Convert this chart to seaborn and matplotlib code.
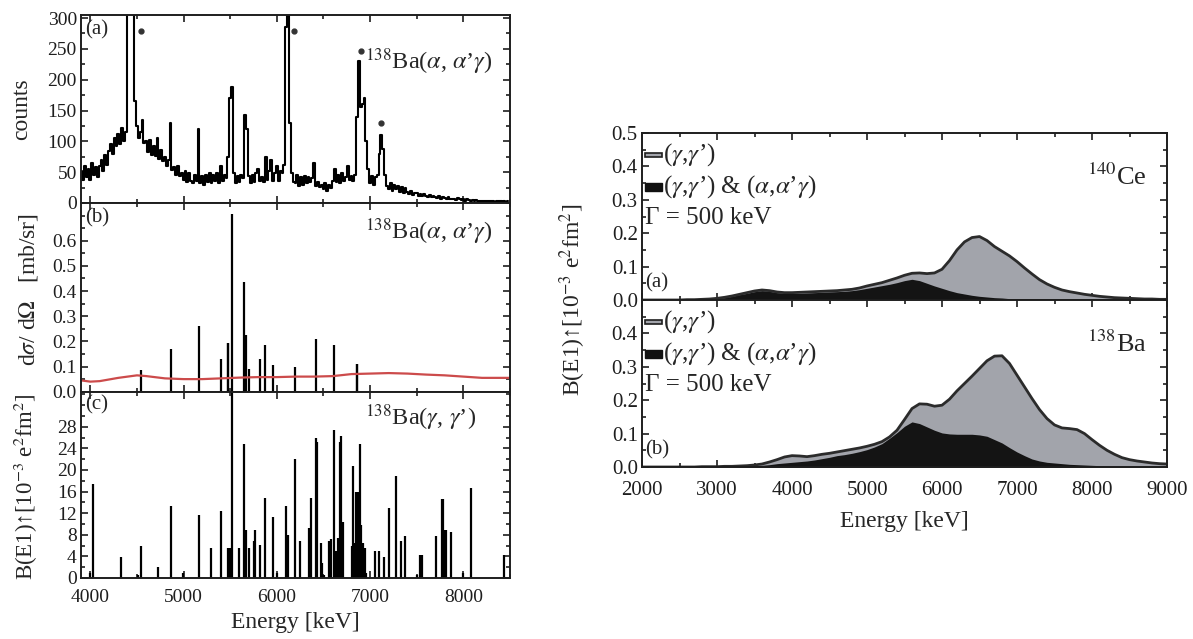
import numpy as np
import seaborn as sns
import matplotlib.pyplot as plt
from matplotlib.patches import Rectangle
from matplotlib.ticker import MultipleLocator, FormatStrFormatter

# ---------------- data ----------------
# (a) 138Ba(alpha,alpha'gamma) spectrum, 20 keV bins from 3900 keV
spec_e0, spec_bin = 3900, 20
spec_counts = [
    52, 38, 60, 42, 55,   38, 65, 45, 58, 42,   60, 70, 52, 78, 62,
    85, 95, 80, 105, 92,  112, 95, 122, 100, 115,  900, 1500, 1200, 700, 165,
    125, 105, 115, 135, 98,  100, 82, 102, 78, 92,  76, 105, 72, 86, 68,
    74, 60, 70, 130, 54,  58, 46, 60, 44, 48,  38, 52, 34, 48, 36,
    32, 45, 35, 120, 32,  44, 30, 46, 34, 48,  32, 45, 35, 48, 33,
    60, 35, 45, 40, 75,  170, 188, 48, 32, 44,  34, 46, 40, 143, 120,
    44, 32, 46, 34, 48,  55, 36, 42, 34, 75,  38, 52, 70, 36, 48,
    60, 36, 52, 48, 62,  285, 800, 130, 48, 34,  32, 45, 28, 42, 30,
    44, 32, 42, 34, 40,  65, 28, 34, 26, 30,  22, 32, 20, 30, 24,
    35, 55, 34, 45, 32,  48, 36, 42, 60, 38,  44, 36, 46, 140, 230,
    155, 160, 170, 100, 55,  32, 44, 30, 42, 45,  80, 110, 88, 45, 28,
    22, 32, 20, 30, 22,  28, 18, 26, 16, 24,  18, 14, 20, 13, 16,
    17, 12, 15, 11, 14,  12, 10, 13, 9, 11,  10, 8, 11, 7, 9,
    8, 6, 9, 7, 6,  7, 5, 8, 6, 5,  6, 4, 6, 5, 4,
    5, 4, 5, 3, 4,  4, 3, 4, 3, 4,  3, 4, 2, 3, 3,  3, 2, 3, 2, 3,
]
spec_e = [spec_e0 + spec_bin * i for i in range(len(spec_counts))]
mark_e = [4545, 6186, 6906, 7119]
mark_c = [279, 279, 247, 130]

# (b) differential cross sections and sensitivity limit
xs_e = [4545, 4864, 5162, 5402, 5472, 5480, 5523, 5647, 5661, 5665, 5700,
        5824, 5874, 5963, 6190, 6417, 6612, 6855, 6862]
xs_val = [0.085, 0.17, 0.26, 0.13, 0.195, 0.195, 0.705, 0.435, 0.225, 0.225, 0.09,
          0.13, 0.185, 0.105, 0.10, 0.21, 0.185, 0.11, 0.11]
limit_e = [3900, 4000, 4100, 4300, 4500, 4600, 4800, 5000, 5200, 5400, 5600, 5800,
           6000, 6200, 6400, 6600, 6800, 7000, 7200, 7400, 7600, 7800, 8000, 8200, 8500]
limit_val = [0.045, 0.040, 0.042, 0.055, 0.065, 0.062, 0.053, 0.050, 0.050, 0.053,
             0.056, 0.058, 0.058, 0.060, 0.060, 0.062, 0.070, 0.072, 0.074, 0.072,
             0.068, 0.065, 0.060, 0.055, 0.055]

# (c) B(E1) from (gamma,gamma')
be1_e = [3998, 4034, 4332, 4509, 4544, 4722, 4863, 4998, 5162, 5296, 5402, 5480,
         5488, 5495, 5523, 5594, 5647, 5665, 5700, 5753, 5771, 5821, 5874, 5963,
         5998, 6100, 6115, 6190, 6243, 6346, 6364, 6417, 6434, 6473, 6488, 6505,
         6562, 6580, 6612, 6637, 6651, 6672, 6690, 6707, 6803, 6817, 6832, 6850,
         6860, 6870, 6888, 6906, 6928, 6945, 6960, 7055, 7098, 7151, 7204, 7274,
         7328, 7374, 7505, 7540, 7552, 7711, 7768, 7780, 7800, 7812, 7871, 7995,
         8083, 8438]
be1_val = [1.0, 17.5, 3.8, 0.5, 6.0, 2.0, 13.4, 1.0, 11.6, 5.6, 12.5, 5.6,
           5.6, 5.6, 35.0, 5.6, 24.8, 8.8, 5.6, 6.8, 8.9, 6.1, 14.9, 11.3,
           1.0, 13.4, 8.0, 22.0, 6.8, 9.2, 14.9, 26.0, 25.2, 6.5, 2.8, 0.5,
           6.8, 7.2, 27.5, 5.0, 7.5, 25.2, 26.3, 10.4, 6.0, 20.8, 6.4, 16.0,
           16.0, 16.0, 24.8, 9.8, 6.5, 5.5, 1.0, 5.0, 5.0, 3.8, 13.0, 18.8,
           6.8, 7.7, 0.5, 4.3, 4.3, 7.7, 14.7, 14.7, 8.8, 8.8, 8.5, 0.9,
           16.6, 4.2]

# right: folded strength distributions (Gamma = 500 keV), 100 keV grid
strength_e = list(range(2000, 9001, 100))
ce_total = [0.0, 0.0, 0.0, 0.0, 0.0, 0.0, 0.001, 0.001, 0.002, 0.003,
            0.005, 0.008, 0.012, 0.017, 0.022, 0.027, 0.030, 0.028, 0.024, 0.022,
            0.022, 0.023, 0.024, 0.025, 0.026, 0.027, 0.028, 0.030, 0.032, 0.036,
            0.042, 0.047, 0.052, 0.059, 0.066, 0.074, 0.080, 0.081, 0.079, 0.081,
            0.092, 0.118, 0.150, 0.174, 0.187, 0.190, 0.178, 0.160, 0.146, 0.132,
            0.115, 0.096, 0.078, 0.061, 0.048, 0.038, 0.030, 0.025, 0.021, 0.017,
            0.014, 0.011, 0.009, 0.007, 0.006, 0.005, 0.004, 0.003, 0.003, 0.002,
            0.002]
ce_coinc = [0.0, 0.0, 0.0, 0.0, 0.0, 0.0, 0.0, 0.0, 0.001, 0.002,
            0.004, 0.007, 0.011, 0.016, 0.020, 0.025, 0.028, 0.026, 0.022, 0.020,
            0.020, 0.020, 0.021, 0.022, 0.023, 0.024, 0.025, 0.026, 0.028, 0.031,
            0.035, 0.039, 0.043, 0.047, 0.052, 0.058, 0.062, 0.058, 0.050, 0.042,
            0.035, 0.028, 0.022, 0.018, 0.014, 0.011, 0.009, 0.007, 0.006, 0.004,
            0.003, 0.002, 0.002, 0.001, 0.001, 0.0, 0.0, 0.0, 0.0, 0.0,
            0.0, 0.0, 0.0, 0.0, 0.0, 0.0, 0.0, 0.0, 0.0, 0.0,
            0.0]
ba_total = [0.0, 0.0, 0.0, 0.0, 0.0, 0.0, 0.0, 0.0, 0.001, 0.001,
            0.001, 0.002, 0.002, 0.003, 0.004, 0.006, 0.009, 0.015, 0.022, 0.030,
            0.034, 0.033, 0.031, 0.034, 0.038, 0.041, 0.045, 0.049, 0.053, 0.057,
            0.062, 0.068, 0.076, 0.090, 0.110, 0.142, 0.175, 0.189, 0.188, 0.182,
            0.185, 0.203, 0.228, 0.250, 0.272, 0.295, 0.318, 0.332, 0.333, 0.310,
            0.275, 0.240, 0.205, 0.172, 0.145, 0.126, 0.117, 0.115, 0.112, 0.100,
            0.082, 0.065, 0.050, 0.038, 0.028, 0.022, 0.018, 0.015, 0.012, 0.010,
            0.009]
ba_coinc = [0.0, 0.0, 0.0, 0.0, 0.0, 0.0, 0.0, 0.0, 0.0, 0.0,
            0.001, 0.001, 0.001, 0.002, 0.003, 0.004, 0.005, 0.007, 0.010, 0.012,
            0.014, 0.016, 0.018, 0.021, 0.025, 0.029, 0.034, 0.037, 0.041, 0.046,
            0.052, 0.060, 0.070, 0.086, 0.103, 0.122, 0.135, 0.130, 0.120, 0.110,
            0.102, 0.099, 0.098, 0.098, 0.098, 0.096, 0.092, 0.082, 0.072, 0.058,
            0.045, 0.034, 0.024, 0.018, 0.014, 0.012, 0.010, 0.008, 0.007, 0.006,
            0.005, 0.004, 0.003, 0.002, 0.002, 0.001, 0.001, 0.001, 0.001, 0.0,
            0.0]

# ---------------- figure ----------------
sns.set_theme(style="ticks")
plt.rcParams['font.family'] = ['Liberation Serif', 'DejaVu Serif']
plt.rcParams['mathtext.fontset'] = 'stix'

W, H = 1193, 639
fig = plt.figure(figsize=(W / 100, H / 100), dpi=100)
INK = '#1e1e1e'
GRAY = '#a2a4ab'


def box(x0, y0, x1, y1):
    return fig.add_axes([x0 / W, 1 - y1 / H, (x1 - x0) / W, (y1 - y0) / H])


def style(ax, fs):
    for s in ax.spines.values():
        s.set_linewidth(1.4)
        s.set_color(INK)
    ax.tick_params(which='both', direction='in', top=True, right=True,
                   width=1.2, labelsize=fs, colors=INK, pad=3)
    ax.tick_params(which='major', length=5)
    ax.tick_params(which='minor', length=3)


# ---- left column ----
ax_a = box(81, 15, 510, 203)
ax_b = box(81, 203, 510, 391.7)
ax_c = box(81, 391.7, 510, 578)

sns.lineplot(x=spec_e, y=spec_counts, ax=ax_a, color='black', lw=1.5,
             drawstyle='steps-mid')
ax_a.plot(mark_e, mark_c, 'o', color='#333333', ms=3.5)
ax_a.set_ylim(0, 305)
ax_a.yaxis.set_major_locator(MultipleLocator(50))
ax_a.yaxis.set_minor_locator(MultipleLocator(25))
ax_a.set_ylabel('counts', fontsize=17)
ax_a.yaxis.set_label_coords(-0.114, 0.5)
ax_a.text(0.01, 0.92, '(a)', transform=ax_a.transAxes, fontsize=15, va='center')
ax_a.text(0.662, 0.75, r"$^{138}$Ba($\alpha$, $\alpha$’$\gamma$)",
          transform=ax_a.transAxes, fontsize=17.5, va='center')

ax_b.vlines(xs_e, 0, xs_val, color='black', lw=1.6)
sns.lineplot(x=limit_e, y=limit_val, ax=ax_b, color='#cc4b4b', lw=1.6)
ax_b.set_ylim(0, 0.75)
ax_b.set_yticks([0.0, 0.1, 0.2, 0.3, 0.4, 0.5, 0.6])
ax_b.yaxis.set_minor_locator(MultipleLocator(0.05))
ax_b.yaxis.set_major_formatter(FormatStrFormatter('%.1f'))
ax_b.set_ylabel(r"d$\sigma$/ d$\Omega$   [mb/sr]", fontsize=17)
ax_b.yaxis.set_label_coords(-0.096, 0.54)
ax_b.text(0.01, 0.92, '(b)', transform=ax_b.transAxes, fontsize=15, va='center')
ax_b.text(0.662, 0.846, r"$^{138}$Ba($\alpha$, $\alpha$’$\gamma$)",
          transform=ax_b.transAxes, fontsize=17.5, va='center')

ax_c.vlines(be1_e, 0, be1_val, color='black', lw=1.6)
ax_c.set_ylim(0, 34.5)
ax_c.set_yticks(range(0, 29, 4))
ax_c.yaxis.set_minor_locator(MultipleLocator(2))
ax_c.set_ylabel(r"B(E1)↑[10$^{-3}$ e$^{2}$fm$^{2}$]", fontsize=16.5)
ax_c.yaxis.set_label_coords(-0.096, 0.49)
ax_c.set_xlabel('Energy [keV]', fontsize=17, labelpad=4)
ax_c.text(0.01, 0.93, '(c)', transform=ax_c.transAxes, fontsize=15, va='center')
ax_c.text(0.662, 0.86, r"$^{138}$Ba($\gamma$, $\gamma$’)",
          transform=ax_c.transAxes, fontsize=17.5, va='center')

for ax in (ax_a, ax_b, ax_c):
    ax.set_xlim(3900, 8500)
    ax.xaxis.set_major_locator(MultipleLocator(1000))
    ax.xaxis.set_minor_locator(MultipleLocator(500))
    style(ax, 14)
    ax.tick_params(axis='x', pad=8)
for ax in (ax_a, ax_b):
    ax.tick_params(labelbottom=False)


# ---- right column ----
ax_u = box(642, 133, 1167, 300)
ax_l = box(642, 300, 1167, 467)


def strength(ax, total, coinc, tag, nucleus):
    ax.fill_between(strength_e, total, color=GRAY, lw=0)
    ax.fill_between(strength_e, coinc, color='#141414', lw=0)
    sns.lineplot(x=strength_e, y=total, ax=ax, color='#2b2b2b', lw=2)
    ax.set_xlim(2000, 9000)
    ax.set_ylim(0, 0.5)
    ax.xaxis.set_major_locator(MultipleLocator(1000))
    ax.xaxis.set_minor_locator(MultipleLocator(500))
    ax.yaxis.set_major_locator(MultipleLocator(0.1))
    ax.yaxis.set_minor_locator(MultipleLocator(0.05))
    ax.yaxis.set_major_formatter(FormatStrFormatter('%.1f'))
    style(ax, 15)
    ax.tick_params(axis='x', pad=10)
    ax.add_patch(Rectangle((0.006, 0.855), 0.032, 0.028, transform=ax.transAxes,
                           facecolor=GRAY, edgecolor=INK, lw=1.2))
    ax.text(0.04, 0.868, r"($\gamma$,$\gamma$’)", transform=ax.transAxes,
            fontsize=18, va='center')
    ax.add_patch(Rectangle((0.006, 0.655), 0.032, 0.045, transform=ax.transAxes,
                           facecolor='#111111', edgecolor='#111111', lw=1))
    ax.text(0.04, 0.677, r"($\gamma$,$\gamma$’) & ($\alpha$,$\alpha$’$\gamma$)",
            transform=ax.transAxes, fontsize=18, va='center')
    ax.text(0.006, 0.49, "Γ = 500 keV", transform=ax.transAxes,
            fontsize=18, va='center')
    ax.text(0.006, 0.10, tag, transform=ax.transAxes, fontsize=15, va='center')
    ax.text(0.962, 0.74, nucleus, transform=ax.transAxes, fontsize=19,
            va='center', ha='right')


strength(ax_u, ce_total, ce_coinc, '(a)', r"$^{140}$Ce")
strength(ax_l, ba_total, ba_coinc, '(b)', r"$^{138}$Ba")
ax_u.tick_params(labelbottom=False)
ax_l.set_yticks([0.0, 0.1, 0.2, 0.3, 0.4])
ax_l.set_xlabel('Energy [keV]', fontsize=17, labelpad=8)
fig.text(573 / W, 1 - 300 / H, r"B(E1)↑[10$^{-3}$ e$^{2}$fm$^{2}$]",
         rotation=90, fontsize=17, ha='center', va='center')

fig.savefig('out.png', dpi=100)
